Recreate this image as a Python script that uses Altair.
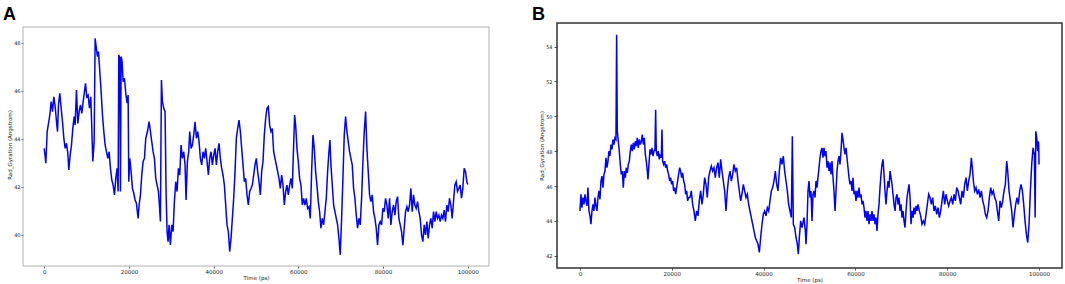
import altair as alt
import pandas as pd

# ---------------- Panel A ----------------
a_time = [0, 236, 393, 707, 1022, 1336, 1651, 1965, 2280, 2594, 2909, 3144, 3380, 3694, 4009, 4323, 4638, 4952,
          5267, 5581, 5817, 6131, 6446, 6760, 7075, 7311, 7625, 7940, 8254, 8569, 8883, 9198, 9512, 9748, 10063,
          10377, 10692, 11006, 11242, 11478, 11792, 12028, 12264, 12579, 12815, 13129, 13444, 13758, 14073, 14387,
          14702, 15016, 15331, 15645, 15960, 16274, 16589, 16903, 17217, 17453, 17610, 17846, 18004, 18161, 18397,
          18633, 18947, 19262, 19576, 19812, 19970, 20205, 20520, 20834, 21149, 21463, 21778, 22171, 22406, 22721,
          23035, 23350, 23664, 23979, 24372, 24765,
          25079, 25394, 25708, 26023, 26337, 26652, 26966, 27201, 27437, 27673, 27909, 28223, 28538, 28773, 29009,
          29245, 29481, 29795, 30110, 30424, 30739, 31053, 31367, 31682, 31996, 32311, 32625, 32940, 33254, 33490,
          33804, 34119, 34355, 34669, 34984, 35298, 35613, 35927, 36242, 36556, 36871, 37185, 37500, 37814, 38129,
          38443, 38758, 39072, 39387, 39701, 40016, 40330, 40645, 40959, 41274, 41588, 41903, 42217, 42532, 42846,
          43161, 43475, 43790, 44104, 44419, 44733, 45048, 45362, 45677, 45991, 46306, 46620, 46935, 47249, 47564,
          47878, 48193, 48507, 48822, 49136, 49451,
          49764, 50078, 50393, 50707, 51022, 51336, 51651, 51965, 52280, 52594, 52908, 53223, 53537, 53852, 54166,
          54481, 54795, 55110, 55424, 55739, 56053, 56368, 56682, 56997, 57311, 57626, 57940, 58255, 58569, 58884,
          59119, 59355, 59670, 59984, 60299, 60613, 60928, 61242, 61557, 61871, 62186, 62500, 62815, 63129, 63444,
          63758, 64073, 64387, 64702, 65016, 65331, 65645, 65960, 66274, 66589, 66903, 67218, 67454, 67689, 68004,
          68318, 68633, 68947, 69262, 69576, 69891, 70205, 70520, 70834, 71149, 71463, 71778, 72092, 72407, 72721,
          73036, 73350, 73665, 73979, 74294, 74608, 74923, 75237, 75552, 75866,
          76179, 76494, 76808, 77122, 77437, 77751, 78066, 78380, 78695, 79009, 79324, 79638, 79953, 80267, 80582,
          80896, 81211, 81525, 81840, 82154, 82469, 82783, 83098, 83412, 83727, 84041, 84356, 84670, 84985, 85299,
          85614, 85928, 86243, 86557, 86872, 87186, 87501, 87815, 88130, 88444, 88759, 89073, 89388, 89702, 90017,
          90331, 90646, 90960, 91275, 91589, 91904, 92218, 92533, 92847, 93162, 93476, 93791, 94105, 94420, 94734,
          95049, 95363, 95678, 95992, 96307, 96621, 96936, 97250, 97565, 97879, 98194, 98508, 98823, 99137, 99452,
          99766, 100000]
a_rg = [43.61, 43.26, 42.99, 44.31, 44.65, 45.00, 45.56, 45.14, 45.76, 45.35, 44.72, 44.31, 45.42, 45.90, 45.28,
        44.72, 44.03, 43.61, 43.82, 43.40, 42.71, 43.33, 43.75, 44.44, 44.93, 44.58, 46.04, 44.65, 45.14, 45.42,
        45.07, 45.56, 45.97, 46.32, 45.76, 45.83, 45.28, 45.76, 44.44, 43.06, 43.89, 48.19, 47.85, 47.43, 47.64,
        46.81, 45.97, 45.00, 44.31, 43.75, 43.47, 43.19, 43.47, 42.78, 42.29, 42.08, 41.67, 42.36, 42.78, 41.81,
        47.50, 47.36, 41.81, 47.43, 47.22, 46.39, 46.53, 45.90, 45.49, 45.83, 42.22, 43.19, 42.64, 41.94, 41.74,
        41.46, 41.32, 40.69, 41.25, 41.67, 42.50, 43.06, 43.19, 44.03, 44.31, 44.72,
        44.31, 43.89, 43.47, 43.19, 42.36, 42.08, 41.81, 41.25, 40.56, 46.46, 45.56, 45.28, 45.14, 41.81, 40.14,
        39.72, 40.42, 39.58, 40.42, 40.14, 41.39, 42.22, 41.81, 42.78, 42.50, 43.75, 43.19, 43.47, 42.92, 41.46,
        43.06, 43.47, 44.31, 43.61, 43.75, 44.17, 44.72, 44.03, 44.31, 43.89, 43.19, 42.92, 43.47, 43.19, 43.61,
        43.06, 42.50, 43.19, 43.47, 42.92, 43.33, 43.61, 42.92, 43.47, 43.82, 43.19, 42.78, 42.50, 42.08, 41.25,
        40.42, 40.14, 39.31, 39.86, 40.69, 41.53, 42.64, 44.03, 44.44, 44.79, 44.31, 43.61, 42.92, 42.22, 42.36,
        41.67, 41.25, 41.81, 41.94, 42.08, 42.50,
        42.92, 43.19, 42.64, 42.22, 41.67, 42.64, 43.06, 44.17, 44.86, 45.28, 45.35, 44.58, 44.31, 44.44, 43.47,
        43.19, 42.92, 42.64, 42.36, 41.94, 42.50, 42.08, 41.25, 41.81, 42.08, 41.67, 42.08, 42.36, 41.94, 43.75,
        45.00, 44.58, 43.61, 43.06, 42.36, 42.08, 41.25, 41.53, 41.25, 41.53, 41.11, 41.18, 40.69, 42.64, 44.17,
        43.61, 42.64, 42.08, 41.39, 40.97, 40.28, 40.69, 40.42, 40.97, 41.53, 42.64, 43.47, 43.96, 42.92, 42.08,
        41.25, 40.97, 40.69, 40.42, 39.86, 39.17, 40.69, 42.36, 44.17, 44.93, 44.31, 43.89, 43.47, 43.19, 42.92,
        41.94, 41.53, 40.83, 40.28, 40.69, 40.42, 41.53, 43.06, 44.31, 45.14,
        43.61, 42.64, 41.67, 41.39, 41.67, 40.97, 40.69, 40.28, 39.58, 40.42, 40.56, 40.42, 41.11, 40.97, 41.53,
        41.25, 40.69, 41.53, 40.42, 40.97, 41.25, 40.83, 41.39, 41.60, 40.69, 40.42, 40.14, 39.58, 40.28, 40.97,
        41.18, 40.97, 41.25, 41.94, 40.97, 41.67, 41.25, 41.11, 41.39, 40.97, 40.69, 40.00, 39.72, 40.42, 40.00,
        40.56, 39.86, 40.42, 40.69, 40.28, 40.97, 40.56, 40.97, 40.69, 40.83, 40.56, 40.83, 40.69, 41.04, 40.56,
        41.25, 40.97, 41.53, 41.25, 40.69, 41.39, 42.08, 42.22, 41.81, 41.94, 42.08, 41.53, 41.94, 42.78, 42.64,
        42.22, 42.10]

# ---------------- Panel B ----------------
b_time = [0, 218, 436, 654, 872, 1090, 1307, 1525, 1743, 1961, 2179, 2397, 2615, 2833, 3050, 3268, 3486, 3704,
          3922, 4140, 4358, 4576, 4793, 5011, 5229, 5447, 5665, 5883, 6101, 6319, 6536, 6754, 6972, 7190, 7408,
          7626, 7844, 7989, 8134, 8352, 8570, 8787, 9005, 9223, 9441, 9659, 9877, 10095, 10313, 10530, 10748,
          10966, 11184, 11402, 11620, 11838, 12056, 12273, 12491, 12709, 12927, 13145, 13363, 13581, 13799, 14016,
          14234, 14452, 14670, 14815, 15033, 15251, 15469, 15687, 15905, 16123, 16340, 16486, 16631, 16849, 17067,
          17285, 17503, 17721, 17866, 18011, 18229, 18447, 18665, 18883, 19101, 19318, 19536, 19754, 19972, 20190,
          20408, 20626, 20844, 21061, 21279, 21497, 21715, 21933, 22151, 22369, 22587, 22804, 23022, 23240, 23458,
          23676,
          23965, 24255, 24546, 24836, 25127, 25417, 25708, 25998, 26289, 26579, 26870, 27160, 27451, 27741, 28032,
          28322, 28613, 28903, 29194, 29484, 29775, 30065, 30356, 30646, 30937, 31227, 31518, 31808, 32099, 32389,
          32680, 32970, 33261, 33551, 33842, 34132, 34423, 34713, 35004, 35294, 35585, 35875, 36166, 36456, 36747,
          37037, 37328, 37618, 37909, 38199, 38490, 38780, 39071, 39361, 39652, 39942, 40233, 40523, 40814, 41104,
          41395, 41685, 41976, 42266, 42557, 42847, 43138, 43428, 43719, 44009, 44300, 44590, 44881, 45171, 45462,
          45752, 46043, 46261, 46478, 46769, 47059, 47350, 47568, 47786, 48076, 48367,
          48801, 49091, 49237, 49455, 49672, 49890, 50108, 50326, 50544, 50762, 50980, 51198, 51415, 51633, 51851,
          52069, 52287, 52505, 52723, 52941, 53158, 53376, 53594, 53812, 54030, 54248, 54466, 54684, 54901, 55119,
          55337, 55555, 55773, 55991, 56209, 56427, 56644, 56862, 57080, 57298, 57516, 57734, 57952, 58170, 58387,
          58605, 58823, 59041, 59259, 59477, 59695, 59913, 60130, 60348, 60566, 60784, 61002, 61220, 61438, 61656,
          61873, 62091, 62309, 62527, 62745, 62963, 63181, 63399, 63616, 63834, 64052, 64270, 64488, 64706, 64924,
          65142, 65359, 65577, 65795, 66013, 66231, 66449, 66667, 66885, 67102, 67320, 67538, 67756, 67974, 68192,
          68410, 68628, 68845, 69063, 69281, 69499, 69717, 69935, 70153, 70371, 70588, 70806, 71024, 71242, 71460,
          71678, 71896, 72114, 72331, 72549, 72767, 72985, 73203, 73421,
          73637, 73927, 74218, 74508, 74799, 75089, 75380, 75670, 75961, 76251, 76542, 76832, 77123, 77413, 77704,
          77994, 78285, 78575, 78866, 79156, 79447, 79737, 80028, 80318, 80609, 80899, 81190, 81480, 81771, 82061,
          82352, 82642, 82933, 83223, 83514, 83804, 84095, 84385, 84676, 84966, 85257, 85475, 85693, 85983, 86274,
          86564, 86855, 87145, 87436, 87726, 88017, 88307, 88598, 88888, 89179, 89469, 89760, 90050, 90341, 90631,
          90922, 91212, 91503, 91793, 92084, 92374, 92665, 92955, 93173, 93463, 93754, 94044, 94335, 94625, 94916,
          95206, 95497, 95787, 96078, 96368, 96659, 96949, 97240, 97530, 97821, 98111, 98402, 98692, 98983, 99150,
          99300, 99500, 99700, 99850, 99930, 100000]
b_rg = [44.57, 45.53, 44.76, 45.34, 44.95, 45.53, 45.15, 44.86, 45.91, 44.57, 44.29, 43.81, 44.57, 44.95, 44.57,
        45.34, 44.86, 44.57, 45.34, 45.72, 45.24, 46.29, 46.57, 45.91, 46.67, 46.86, 47.62, 47.05, 47.43, 48.00,
        47.72, 48.38, 48.10, 48.67, 48.38, 48.76, 48.67, 54.67, 49.14, 48.57, 48.00, 47.24, 46.67, 46.86, 45.91,
        46.86, 46.48, 47.05, 46.76, 47.24, 47.43, 48.00, 48.38, 48.00, 48.48, 48.10, 48.57, 48.29, 48.76, 48.19,
        48.67, 48.38, 48.57, 48.95, 48.38, 48.76, 47.81, 47.43, 46.86, 46.38, 47.24, 48.10, 47.81, 48.19, 47.72,
        48.00, 48.10, 50.38, 48.00, 47.72, 48.00, 47.53, 47.81, 47.62, 49.24, 47.43, 47.24, 47.43, 47.05, 47.24,
        46.86, 46.67, 46.29, 46.48, 46.10, 46.29, 45.72, 45.91, 45.53, 45.91, 46.29, 46.67, 47.05, 46.86, 46.48,
        46.76, 46.29, 46.10, 45.53, 45.72, 45.15, 45.34,
        45.34, 45.72, 44.95, 44.57, 44.00, 44.57, 44.29, 45.15, 45.72, 44.95, 45.53, 46.48, 46.10, 45.34, 46.48,
        46.86, 47.14, 46.86, 47.05, 46.48, 47.05, 47.34, 46.48, 47.53, 46.86, 46.29, 45.72, 44.57, 45.72, 46.48,
        46.86, 46.29, 46.67, 47.24, 46.86, 47.05, 46.29, 45.72, 45.15, 45.53, 46.10, 45.72, 45.34, 45.53, 44.95,
        44.57, 44.19, 43.81, 43.43, 43.05, 42.86, 42.67, 42.19, 43.05, 43.81, 44.38, 44.57, 44.29, 44.76, 44.57,
        45.15, 45.72, 45.91, 46.29, 46.86, 46.10, 45.72, 46.86, 47.62, 47.24, 47.72, 46.86, 46.29, 45.72, 44.95,
        44.57, 44.19, 48.86, 43.81, 43.62, 43.05, 42.67, 42.10, 43.05, 44.00, 43.62,
        44.19, 43.43, 42.67, 43.81, 45.72, 46.29, 45.34, 45.72, 44.00, 45.53, 45.72, 45.34, 46.29, 45.91, 46.48,
        47.05, 47.62, 48.00, 48.19, 47.62, 48.19, 47.72, 48.00, 47.05, 47.43, 46.86, 47.34, 46.67, 47.43, 46.48,
        45.72, 44.57, 45.72, 46.86, 47.43, 47.72, 47.24, 48.00, 49.05, 48.67, 48.19, 47.81, 48.19, 47.62, 47.05,
        46.48, 46.10, 46.29, 45.72, 46.48, 45.53, 45.72, 45.15, 45.72, 45.34, 45.91, 45.34, 45.53, 44.95, 45.15,
        44.76, 44.19, 44.57, 44.00, 44.57, 43.81, 44.38, 44.00, 44.57, 44.00, 44.38, 43.81, 44.19, 43.43, 44.38,
        44.95, 45.91, 46.67, 47.24, 47.53, 46.67, 45.72, 44.95, 45.72, 46.29, 45.91, 46.86, 46.48, 46.10, 45.53,
        44.95, 44.57, 45.34, 45.53, 44.95, 45.34, 44.57, 44.95, 44.19, 44.57, 44.00, 43.62, 44.57, 45.34, 45.72,
        46.10, 45.34, 43.81, 44.57, 44.19, 44.76, 44.38, 44.86, 44.57,
        44.95, 44.57, 44.29, 43.81, 44.00, 43.81, 44.38, 44.95, 45.53, 45.34, 44.95, 45.34, 44.57, 44.86, 44.38,
        44.76, 44.19, 44.57, 45.15, 45.72, 44.95, 45.53, 45.15, 44.86, 45.15, 45.34, 44.95, 45.53, 45.15, 45.91,
        45.72, 45.34, 44.95, 45.72, 45.34, 46.10, 46.48, 45.72, 46.29, 46.67, 47.62, 47.05, 46.29, 45.72, 45.91,
        45.53, 45.81, 45.34, 45.72, 45.15, 44.86, 44.38, 44.19, 44.57, 45.34, 45.91, 45.53, 45.72, 45.34, 45.15,
        44.57, 44.00, 45.15, 44.76, 45.15, 45.72, 46.10, 47.43, 46.86, 45.72, 45.15, 44.57, 43.62, 44.38, 44.95,
        45.34, 44.95, 45.72, 46.10, 45.72, 44.95, 44.00, 43.24, 42.76, 43.81, 45.72, 47.24, 48.19, 47.81, 44.19,
        49.14, 48.76, 48.00, 48.57, 48.38, 47.24]

x_ticks = [0, 20000, 40000, 60000, 80000, 100000]
a_y_ticks = [40, 42, 44, 46, 48]
b_y_ticks = [42, 44, 46, 48, 50, 52, 54]
x_title = "Time (ps)"
y_title = "Rad_Gyration (Angstrom)"
letters = ["A", "B"]

FONT = "DejaVu Sans"
BLUE = "#0000ff"
TXT = "#222222"


def panel(time, rg, letter, width, height, ydom, yticks, frame_top, frame_color,
          frame_w, letter_dx, ytick, ypad):
    df = pd.DataFrame({"time": time, "rg": rg})
    one = pd.DataFrame({"k": [0]})
    xax = alt.Axis(values=x_ticks, format="d", title=x_title, domain=False, grid=False,
                   tickSize=2, tickColor="#555555", labelFontSize=5.5, labelPadding=1,
                   titleFontSize=5.5, titlePadding=1, labelFont=FONT, titleFont=FONT,
                   titleFontWeight="normal", labelColor=TXT, titleColor=TXT)
    yax = alt.Axis(values=yticks, format="d", title=y_title, domain=False, grid=False,
                   tickSize=ytick, tickColor="#555555", labelFontSize=5, labelPadding=ypad,
                   titleFontSize=5.5, titlePadding=1, labelFont=FONT, titleFont=FONT,
                   titleFontWeight="normal", labelColor=TXT, titleColor=TXT)
    line = alt.Chart(df).mark_line(color=BLUE, strokeWidth=1.5, clip=True).encode(
        x=alt.X("time:Q", scale=alt.Scale(domain=[-5000, 105000], nice=False, zero=False), axis=xax),
        y=alt.Y("rg:Q", scale=alt.Scale(domain=ydom, nice=False, zero=False), axis=yax),
    )
    frame = alt.Chart(one).mark_rect(fill="transparent", stroke=frame_color, strokeWidth=frame_w).encode(
        x=alt.value(0), x2=alt.value(width), y=alt.value(frame_top), y2=alt.value(height)
    )
    lab = alt.Chart(one).mark_text(text=letter, font="Liberation Sans", fontSize=18, fontWeight="bold",
                                   align="left", baseline="alphabetic", color="black").encode(
        x=alt.value(letter_dx), y=alt.value(-3)
    )
    return alt.layer(frame, line, lab).properties(width=width, height=height)


pa = panel(a_time, a_rg, letters[0], 466, 243, [38.708, 48.833], a_y_ticks, 4, "#b0b0b0", 1, -20, 2, 1)
pb = panel(b_time, b_rg, letters[1], 505, 245, [41.30, 55.35], b_y_ticks, 0, "#333333", 1.5, -25, 3, 2)

chart = alt.hconcat(pa, pb, spacing=42).properties(
    padding={"left": 3, "top": 6, "right": 0, "bottom": 0},
    background="white",
).configure_view(stroke=None)

chart.save("out.html", embed_options={"renderer": "svg", "actions": False})
